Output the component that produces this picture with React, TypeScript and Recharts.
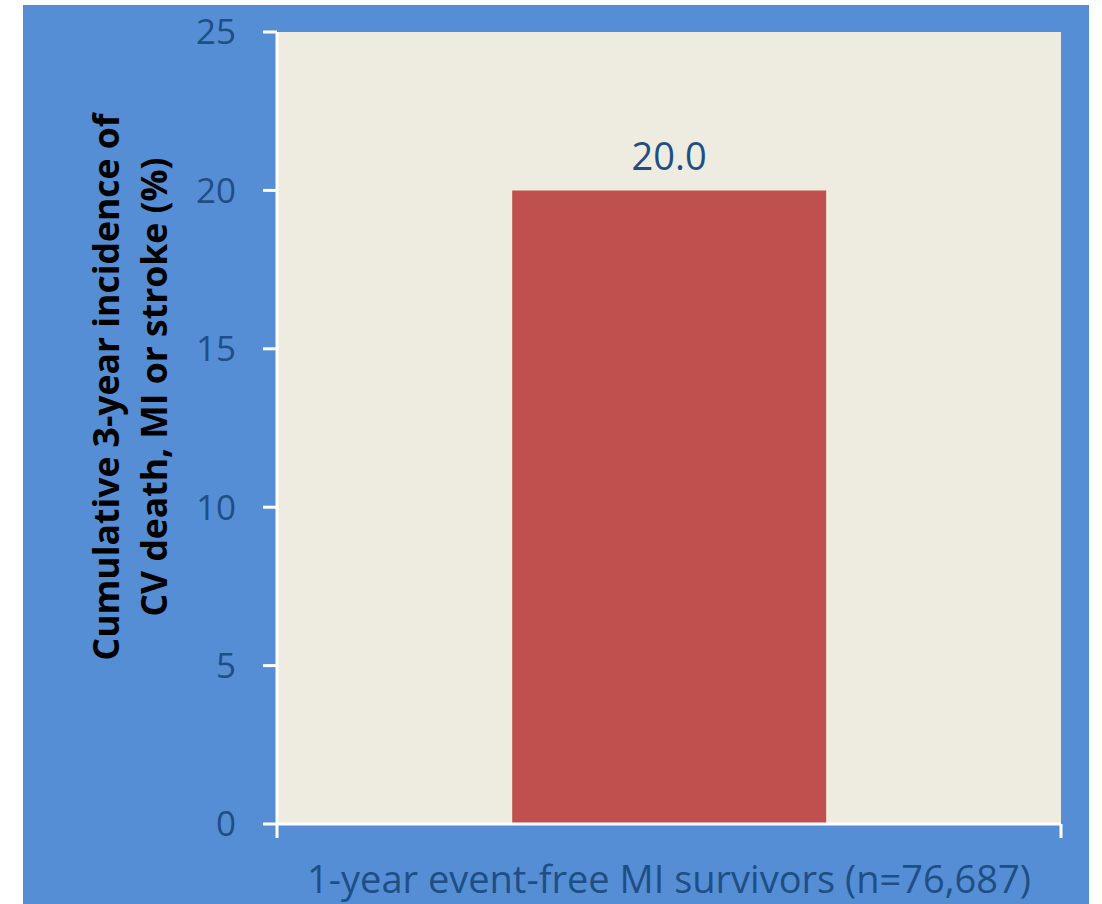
import { BarChart, Bar, XAxis, YAxis, CartesianGrid, LabelList } from "recharts";

// values
const categories = ["1-year event-free MI survivors (n=76,687)"];
const incidence = [20.0];
const yTicks = [0, 5, 10, 15, 20, 25];

const yTitle = ["Cumulative 3-year incidence of", "CV death, MI or stroke (%)"];

const data = categories.map((name, i) => ({ name, value: incidence[i] }));

const FONT = "'Open Sans', sans-serif";
const NAVY = "#1F4E85";

function YTitle() {
  return (
    <text
      transform="rotate(-90)"
      textAnchor="middle"
      fontFamily={FONT}
      fontWeight={700}
      fontSize={35.5}
      fill="#000"
    >
      <tspan x={-387} y={119}>
        {yTitle[0]}
      </tspan>
      <tspan x={-387} y={167}>
        {yTitle[1]}
      </tspan>
    </text>
  );
}

// category label plus Excel-style tick marks on the category boundaries
function CategoryTick(props: any) {
  const { x, y, payload } = props;
  const half = payload.offset ?? 0;
  return (
    <g>
      <line x1={x - half} x2={x - half} y1={y} y2={y + 14} stroke="#fff" strokeWidth={3} />
      <line x1={x + half} x2={x + half} y1={y} y2={y + 14} stroke="#fff" strokeWidth={3} />
      <text x={x} y={y + 69} textAnchor="middle" fill={NAVY} fontSize={38} fontFamily={FONT}>
        {payload.value}
      </text>
    </g>
  );
}

export default function App() {
  return (
    <div
      style={{
        position: "absolute",
        left: 0,
        top: 0,
        width: 1102,
        height: 904,
        background: "#fff",
      }}
    >
      <div
        style={{
          position: "absolute",
          left: 23,
          top: 5,
          width: 1066,
          height: 899,
          background: "#558ED5",
        }}
      />
      <div style={{ position: "absolute", left: 0, top: 0 }}>
        <BarChart
          width={1102}
          height={904}
          data={data}
          margin={{ top: 32, right: 41, left: 0, bottom: 0 }}
          barCategoryGap="30%"
        >
          <CartesianGrid
            horizontal={false}
            vertical={false}
            fill="#EEECE1"
            stroke="none"
          />
          <XAxis
            dataKey="name"
            height={80}
            axisLine={{ stroke: "#fff", strokeWidth: 3 }}
            tickLine={false}
            tickSize={0}
            tickMargin={0}
            tick={<CategoryTick />}
          />
          <YAxis
            width={277}
            domain={[0, 25]}
            ticks={yTicks}
            tickSize={14}
            tickMargin={27}
            axisLine={{ stroke: "#fff", strokeWidth: 3 }}
            tickLine={{ stroke: "#fff", strokeWidth: 3 }}
            tick={{ fill: NAVY, fontSize: 35, fontFamily: FONT }}
            label={{ content: YTitle }}
          />
          <Bar dataKey="value" fill="#C0504D" isAnimationActive={false}>
            <LabelList
              dataKey="value"
              position="top"
              offset={20}
              formatter={(v: number) => v.toFixed(1)}
              fill={NAVY}
              fontSize={38}
              fontFamily={FONT}
            />
          </Bar>
        </BarChart>
      </div>
    </div>
  );
}
